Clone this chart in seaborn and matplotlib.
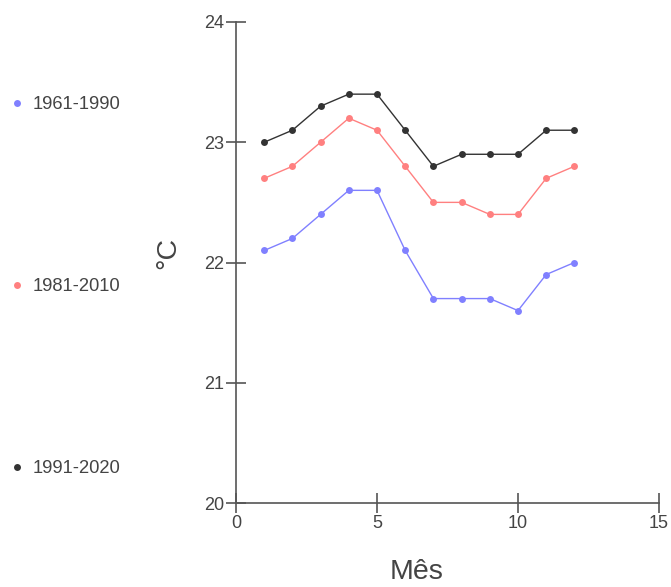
import matplotlib
matplotlib.use("Agg")
import matplotlib.pyplot as plt
from matplotlib.lines import Line2D
import seaborn as sns
import pandas as pd

months = [1, 2, 3, 4, 5, 6, 7, 8, 9, 10, 11, 12]
series_names = ["1961-1990", "1981-2010", "1991-2020"]
t_1961_1990 = [22.1, 22.2, 22.4, 22.6, 22.6, 22.1, 21.7, 21.7, 21.7, 21.6, 21.9, 22.0]
t_1981_2010 = [22.7, 22.8, 23.0, 23.2, 23.1, 22.8, 22.5, 22.5, 22.4, 22.4, 22.7, 22.8]
t_1991_2020 = [23.0, 23.1, 23.3, 23.4, 23.4, 23.1, 22.8, 22.9, 22.9, 22.9, 23.1, 23.1]
x_ticks = [0, 5, 10, 15]
y_ticks = [20, 21, 22, 23, 24]
colors = ["#8080ff", "#ff8080", "#333333"]

df = pd.concat([
    pd.DataFrame({"Mês": months, "°C": vals, "Período": name})
    for name, vals in zip(series_names, [t_1961_1990, t_1981_2010, t_1991_2020])
])

sns.set_style("white")
plt.rcParams["font.family"] = ["Liberation Sans", "DejaVu Sans"]

fig = plt.figure(figsize=(6.71, 5.87), dpi=100)
ax = fig.add_axes([236/671, 1 - 503/587, 423/671, 481/587])
palette = dict(zip(series_names, colors))
sns.lineplot(data=df, x="Mês", y="°C", hue="Período", palette=palette,
             marker="o", markersize=5, markeredgewidth=0, linewidth=1,
             ax=ax, legend=False)

ax.set_xlim(0, 15)
ax.set_ylim(20, 24)
ax.set_xticks(x_ticks)
ax.set_yticks(y_ticks)
for s in ["top", "right"]:
    ax.spines[s].set_visible(False)
for s in ["left", "bottom"]:
    ax.spines[s].set_color("#555555")
    ax.spines[s].set_linewidth(1.2)
ax.tick_params(axis="both", which="major", bottom=True, left=True,
               direction="inout", length=14.5, width=1.2,
               color="#555555", labelcolor="#444444", labelsize=13, pad=1.5)
ax.tick_params(axis="y", pad=1.0)

ax.set_xlabel("Mês", fontsize=20.5, color="#444444")
ax.set_ylabel("°C", fontsize=20.5, color="#444444")
ax.xaxis.set_label_coords((417 - 236) / 423, (503 - 572) / 481)
ax.yaxis.set_label_coords((168 - 236) / 423, (503 - 253) / 481)
ax.xaxis.label.set_va("center")
ax.yaxis.label.set_va("center")
ax.grid(False)

handles = [Line2D([], [], linestyle="none", marker="o", markersize=5,
                  markeredgewidth=0, color=c) for c in colors]
fig.legend(handles, series_names, loc="upper left",
           bbox_to_anchor=(11/671, 1 - 96/587), frameon=False,
           fontsize=13.2, labelcolor="#444444", labelspacing=9.0,
           handlelength=0.6, handletextpad=0.6, borderaxespad=0,
           borderpad=0)

fig.savefig("out.png", dpi=100)
